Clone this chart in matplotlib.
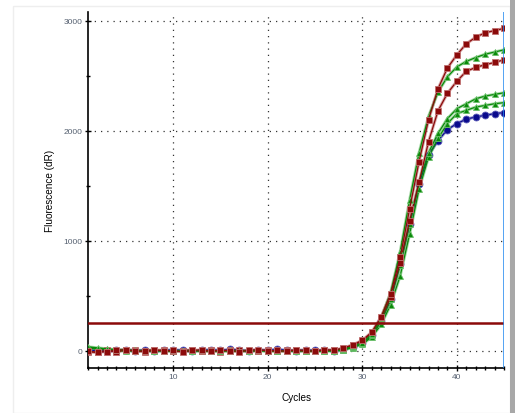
import matplotlib
matplotlib.use("Agg")
import matplotlib.pyplot as plt
from matplotlib.ticker import MultipleLocator
from matplotlib.patches import Rectangle

plt.rcParams["font.family"] = ["Liberation Sans", "DejaVu Sans"]

# 擴增曲線資料 (cycle 1~45)
cycles = list(range(1, 46))

red_a = [-5, -12, -8, 4, 10, -6, 2, 8, -3, 5, -10, 3, 9, -4, 6, 2, -7, 5, 10, -2,
         4, -5, 7, 3, -4, 8, 5, 25, 55, 95, 170, 310, 520, 850, 1290, 1720,
         2100, 2380, 2570, 2690, 2790, 2850, 2890, 2910, 2930]
red_b = [-8, -15, 6, -10, 8, 3, -9, 4, 7, -6, 2, 9, -5, 3, -8, 6, 4, -3, 2, 7,
         -6, 3, 5, -4, 2, 6, 5, 20, 50, 90, 160, 290, 490, 800, 1180, 1530,
         1900, 2180, 2340, 2450, 2540, 2575, 2600, 2620, 2645]
green_1 = [36, 27, 18, 10, 6, 4, 2, 5, -2, 3, 1, -3, 4, 2, -4, 3, 1, -2, 5, 0,
           2, -3, 4, 1, -2, 3, 2, 15, 40, 75, 150, 300, 530, 900, 1370, 1800,
           2130, 2350, 2490, 2580, 2630, 2665, 2695, 2715, 2735]
green_2 = [30, 20, 12, 6, 3, 0, 2, -3, 4, 1, -2, 3, 0, -4, 2, 1, -3, 4, -1, 2,
           -2, 3, 0, 2, -3, 1, 0, 10, 35, 70, 140, 270, 470, 780, 1150, 1530,
           1800, 1975, 2110, 2200, 2245, 2290, 2315, 2330, 2345]
green_3 = [25, 15, 8, 2, -2, 1, -4, 2, 0, -3, 1, 2, -2, 0, 3, -1, -4, 2, 1, -2,
           0, 2, -3, 1, 0, -2, 0, 8, 30, 60, 125, 240, 420, 680, 1060, 1470,
           1760, 1930, 2065, 2155, 2185, 2215, 2230, 2245, 2255]
blue = [5, 2, -3, 4, 8, 2, 6, -2, 3, 9, 4, -1, 5, 10, 3, 12, 6, 2, 8, 4,
        14, 5, 2, 7, 3, 5, 2, 12, 38, 72, 140, 270, 470, 790, 1150, 1520,
        1780, 1910, 2010, 2065, 2105, 2125, 2140, 2155, 2165]

threshold = 255
end_cycle = 45

fig = plt.figure(figsize=(5.15, 4.14), dpi=100)
ax = fig.add_axes([0.171, 0.109, 0.808, 0.860])

# 視窗邊框與右側捲軸
fig.patches.append(Rectangle((13 / 515, 0), 497 / 515, 407 / 414, transform=fig.transFigure,
                             fill=False, edgecolor="#eeeeee", lw=1))
fig.patches.append(Rectangle((510 / 515, 0), 5 / 515, 1, transform=fig.transFigure,
                             facecolor="#a8a8a8", edgecolor="none"))

series = [
    (blue, "#0a0a8c", "o", "#5a5ab8"),
    (green_3, "#0a8a0a", "^", "#6cc06c"),
    (green_2, "#0a8a0a", "^", "#6cc06c"),
    (red_b, "#8b0a0a", "s", "#c07070"),
    (green_1, "#0a8a0a", "^", "#6cc06c"),
    (red_a, "#8b0a0a", "s", "#c07070"),
]
for values, color, marker, light in series:
    ax.plot(cycles, values, color=light, lw=2.2, alpha=0.6, zorder=2)
    ax.plot(cycles, values, color=color, lw=0.9, marker=marker, markersize=5,
            markerfacecolor=color, markeredgecolor=light, markeredgewidth=0.6, zorder=3)

ax.axhline(threshold, color="#8b0a0a", lw=1.8, zorder=4)
ax.axvline(end_cycle, color="#2088f0", lw=1.8, zorder=5)

ax.set_xlim(1, 45)
ax.set_ylim(-155, 3080)
ax.xaxis.set_major_locator(MultipleLocator(10))
ax.xaxis.set_minor_locator(MultipleLocator(1))
ax.yaxis.set_major_locator(MultipleLocator(1000))
ax.yaxis.set_minor_locator(MultipleLocator(500))
ax.grid(True, which="major", linestyle=(0, (1, 4)), color="#333333", lw=0.9)

for side in ["top", "right"]:
    ax.spines[side].set_visible(False)
for side in ["left", "bottom"]:
    ax.spines[side].set_linewidth(1.2)
ax.tick_params(which="both", direction="inout", length=4, width=1, labelsize=6,
               labelcolor="#556070", pad=2)
ax.tick_params(which="minor", length=3)

ax.set_xlabel("Cycles", fontsize=7.2, labelpad=8)
ax.set_ylabel("Fluorescence (dR)", fontsize=7.2, labelpad=6)

fig.savefig("out.png", dpi=100)
